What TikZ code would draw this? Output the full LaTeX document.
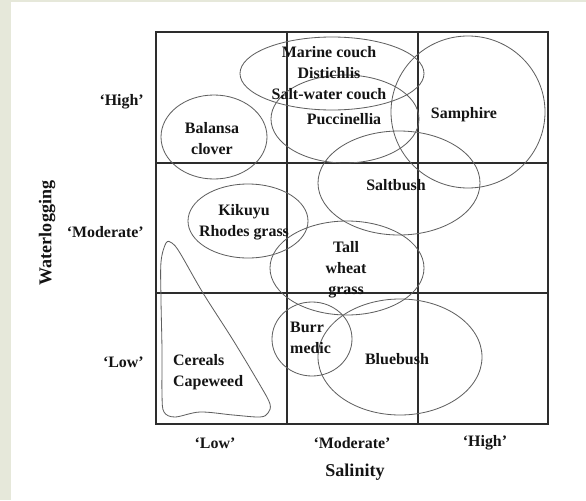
\documentclass[tikz,border=0pt]{standalone}
\usepackage{fontspec}
\setmainfont{Liberation Serif}
\usetikzlibrary{positioning}
\definecolor{strip}{RGB}{230,232,218}
\definecolor{gridline}{RGB}{45,45,45}
\definecolor{zoneline}{RGB}{95,95,95}
\definecolor{ink}{RGB}{20,20,20}

\begin{document}
\begin{tikzpicture}[
  x=0.03cm, y=-0.03cm,
  cell/.style={draw=gridline, line width=1.5pt},
  zone/.style={draw=zoneline, line width=0.7pt},
  plant/.style={font=\fontsize{13.6}{17.9}\selectfont\bfseries, text=ink,
    align=center, inner sep=0pt},
  level/.style={font=\fontsize{13.6}{16}\selectfont\bfseries, text=ink, inner sep=0pt},
  axis/.style={font=\fontsize{15.4}{18}\selectfont\bfseries, text=ink, inner sep=0pt}
]
  % page and side strip
  \fill[white] (0,0) rectangle (586,500);
  \fill[strip] (0,0) rectangle (11,500);
  \fill[strip] (11,0) rectangle (586,2);

  % 3x3 grid
  \draw[cell] (156,32) rectangle (548,424);
  \foreach \gx in {287,418} \draw[cell] (\gx,32) -- (\gx,424);
  \foreach \gy in {163,293} \draw[cell] (156,\gy) -- (548,\gy);

  % zones
  \draw[zone] (332,73.5) ellipse [x radius=92, y radius=36.5];
  \draw[zone] (345,119) ellipse [x radius=74, y radius=44];
  \draw[zone] (468,112) ellipse [x radius=77, y radius=76];
  \draw[zone] (214,137) ellipse [x radius=53, y radius=42];
  \draw[zone] (399,183) ellipse [x radius=81, y radius=52];
  \draw[zone] (248,221) ellipse [x radius=60, y radius=37];
  \draw[zone] (347,268) ellipse [x radius=77, y radius=47];
  \draw[zone] (312,339) ellipse [x radius=40, y radius=37];
  \draw[zone] (400,357) ellipse [x radius=82, y radius=58];
  \draw[zone] plot[smooth cycle, tension=0.55] coordinates {
    (166,243) (161,262) (161,300) (162,350) (162,395) (164,412) (175,417)
    (200,412) (233,415) (260,417) (268,413) (270,404) (260,385) (233,340)
    (203,293) (180,253) (172,243)};

  % plant labels
  \node[plant] (marine) at (329,73) {Marine couch\\Distichlis\\Salt-water couch};
  \node[plant] (pucc) at (344,119) {Puccinellia};
  \node[plant] (samph) at (464,115) {Samphire};
  \node[plant] (balansa) at (212,138.5) {Balansa\\clover};
  \node[plant] (saltbush) at (396,185) {Saltbush};
  \node[plant] (kikuyu) at (244,222) {Kikuyu\\Rhodes grass};
  \node[plant] (tall) at (346,269.5) {Tall\\wheat\\grass};
  \node[plant, align=left, anchor=west] (burr) at (290,337.5) {Burr\\medic};
  \node[plant] (bluebush) at (397,359) {Bluebush};
  \node[plant, align=left, anchor=west] (cereals) at (173,372.5) {Cereals\\Capeweed};

  % waterlogging levels
  \node[level, anchor=east] (wHigh) at (144,102) {‘High’};
  \node[level, anchor=east] (wMod) at (144,232) {‘Moderate’};
  \node[level, anchor=east] (wLow) at (144,362) {‘Low’};
  \node[axis, rotate=90] (wTitle) at (47,233) {Waterlogging};

  % salinity levels
  \node[level] (sLow) at (215,443) {‘Low’};
  \node[level] (sMod) at (352,443) {‘Moderate’};
  \node[level] (sHigh) at (485,443) {‘High’};
  \node[axis] (sTitle) at (355,472) {Salinity};
\end{tikzpicture}
\end{document}
